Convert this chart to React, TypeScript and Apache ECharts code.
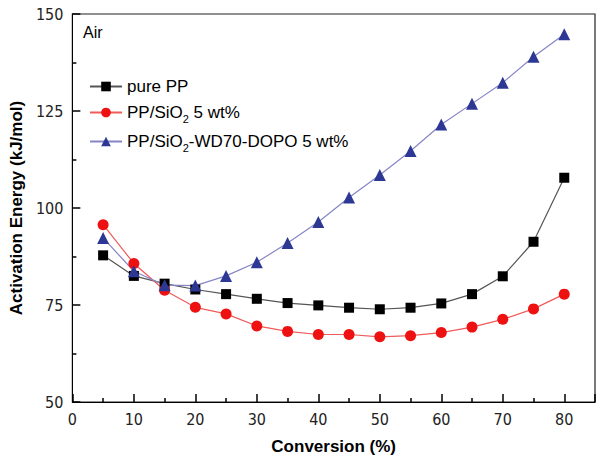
import React, { useEffect, useRef } from "react";
import * as echarts from "echarts";

const conversion = [5, 10, 15, 20, 25, 30, 35, 40, 45, 50, 55, 60, 65, 70, 75, 80];
const purePP = [87.8, 82.5, 80.5, 79.0, 77.8, 76.6, 75.5, 74.9, 74.3, 73.9, 74.3, 75.4, 77.8, 82.4, 91.3, 107.8];
const ppSiO2 = [95.7, 85.7, 78.8, 74.4, 72.7, 69.6, 68.2, 67.4, 67.4, 66.8, 67.1, 67.9, 69.3, 71.3, 74.0, 77.8];
const ppDopo = [92.3, 83.7, 80.1, 80.0, 82.5, 86.0, 91.0, 96.4, 102.7, 108.5, 114.7, 121.5, 126.9, 132.3, 139.0, 144.8];
const seriesNames = ["pure PP", "PP/SiO2 5 wt%", "PP/SiO2-WD70-DOPO 5 wt%"];
const xRange = [0, 85];
const yRange = [50, 150];

const narrow = "'Liberation Sans Narrow', 'DejaVu Sans Condensed', 'Liberation Sans', sans-serif";
const sans = "'Liberation Sans', Arial, sans-serif";

export default function App() {
  const ref = useRef<HTMLDivElement>(null);
  useEffect(() => {
    if (!ref.current) return;
    const chart = echarts.init(ref.current, null, { renderer: "svg" });
    const pair = (ys: number[]) => conversion.map((x, i) => [x, ys[i]]);
    const legendFmt = (name: string) => {
      if (name === seriesNames[1]) return "PP/SiO{sub|2} 5 wt%";
      if (name === seriesNames[2]) return "PP/SiO{sub|2}-WD70-DOPO 5 wt%";
      return name;
    };
    chart.setOption({
      animation: false,
      grid: {
        left: 68,
        right: 9,
        top: 14,
        bottom: 62,
        show: true,
        borderColor: "#222",
        borderWidth: 1.2,
      },
      graphic: [
        {
          type: "text",
          left: 83,
          top: 24,
          style: { text: "Air", font: `16px ${sans}`, fill: "#000" },
        },
      ],
      legend: {
        orient: "vertical",
        left: 84,
        top: 73,
        itemWidth: 32,
        itemHeight: 12,
        itemGap: 9,
        data: seriesNames,
        formatter: legendFmt,
        textStyle: {
          fontFamily: sans,
          fontSize: 17,
          color: "#000",
          rich: {
            sub: { fontSize: 11, fontFamily: sans, color: "#000", padding: [12, 0, 0, 0] },
          },
        },
      },
      xAxis: {
        type: "value",
        min: xRange[0],
        max: xRange[1],
        interval: 10,
        name: "Conversion (%)",
        nameLocation: "middle",
        nameGap: 36,
        nameTextStyle: { fontFamily: sans, fontSize: 17, fontWeight: "bold", color: "#000" },
        axisLine: { show: true, onZero: false, lineStyle: { color: "#000", width: 1 } },
        axisTick: { show: true, inside: true, length: 8, lineStyle: { color: "#000", width: 1.5 } },
        minorTick: { show: true, splitNumber: 2, length: 4, lineStyle: { color: "#000", width: 1.5 } },
        axisLabel: {
          margin: 9,
          fontFamily: narrow,
          fontSize: 16,
          color: "#222",
          showMaxLabel: false,
        },
        splitLine: { show: false },
      },
      yAxis: {
        type: "value",
        min: yRange[0],
        max: yRange[1],
        interval: 25,
        name: "Activation Energy (kJ/mol)",
        nameLocation: "middle",
        nameGap: 44,
        nameTextStyle: { fontFamily: sans, fontSize: 17, fontWeight: "bold", color: "#000" },
        axisLine: { show: true, onZero: false, lineStyle: { color: "#000", width: 1 } },
        axisTick: { show: true, inside: true, length: 8, lineStyle: { color: "#000", width: 1.5 } },
        minorTick: { show: true, splitNumber: 2, length: 4, lineStyle: { color: "#000", width: 1.5 } },
        axisLabel: {
          margin: 9,
          fontFamily: narrow,
          fontSize: 16,
          color: "#222",
        },
        splitLine: { show: false },
      },
      series: [
        {
          name: seriesNames[0],
          type: "line",
          data: pair(purePP),
          symbol: "rect",
          symbolSize: 10,
          lineStyle: { color: "#555555", width: 1.2 },
          itemStyle: { color: "#000000" },
        },
        {
          name: seriesNames[1],
          type: "line",
          data: pair(ppSiO2),
          symbol: "circle",
          symbolSize: 11,
          lineStyle: { color: "#f05a5a", width: 1.2 },
          itemStyle: { color: "#ee1111" },
        },
        {
          name: seriesNames[2],
          type: "line",
          data: pair(ppDopo),
          symbol: "triangle",
          symbolSize: 12,
          lineStyle: { color: "#8585c8", width: 1.2 },
          itemStyle: { color: "#2d3894" },
        },
      ],
    });
    return () => chart.dispose();
  }, []);
  return <div ref={ref} style={{ width: 604, height: 464, position: "absolute", left: 0, top: 0 }} />;
}
